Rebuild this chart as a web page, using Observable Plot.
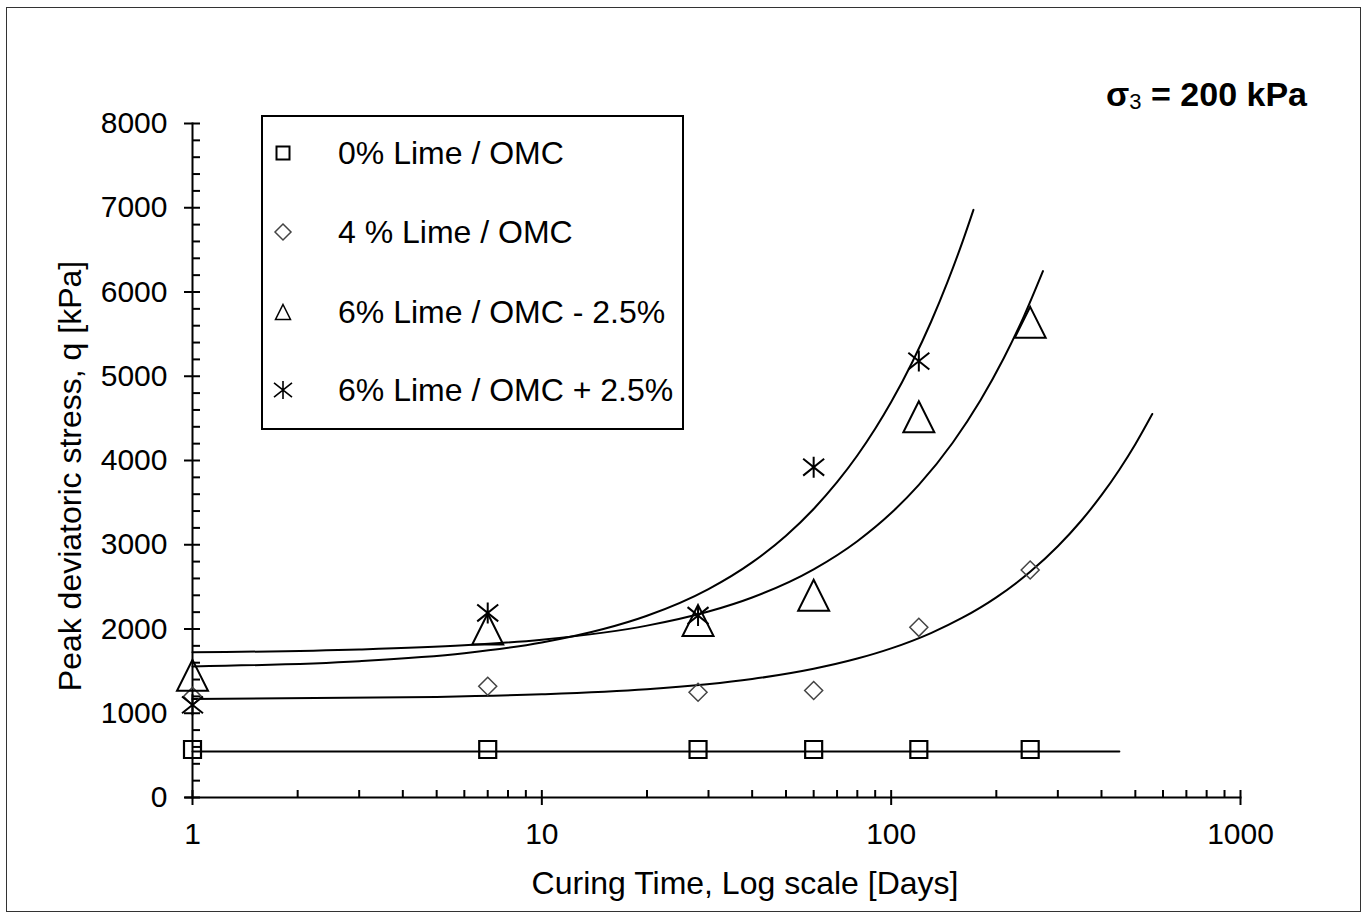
<!DOCTYPE html>
<html><head><meta charset="utf-8">
<script src="https://cdn.jsdelivr.net/npm/d3@7"></script>
<script src="https://cdn.jsdelivr.net/npm/@observablehq/plot@0.6"></script>
<style>
html,body{margin:0;padding:0;background:#fff;}
#wrap{position:relative;width:1367px;height:915px;overflow:hidden;font-family:"Liberation Sans",Arial,sans-serif;color:#000;background:#fff;}
#frame{position:absolute;left:6px;top:7px;width:1355px;height:905px;border:1.5px solid #333;box-sizing:border-box;pointer-events:none;}
#chart{position:absolute;left:0;top:0;}
#title{position:absolute;right:60px;top:77px;font-size:34px;font-weight:bold;line-height:1;white-space:nowrap;}
#title sub{font-size:22px;font-weight:normal;vertical-align:-3px;}
#ytitle{position:absolute;left:70px;top:476px;transform:translate(-50%,-50%) rotate(-90deg);font-size:32px;line-height:1;white-space:nowrap;}
#xtitle{position:absolute;left:745px;top:883px;transform:translate(-50%,-50%);font-size:32px;line-height:1;white-space:nowrap;}
#legend{position:absolute;left:261px;top:115px;width:423px;height:315px;border:2px solid #000;box-sizing:border-box;background:#fff;}
#legend svg{position:absolute;left:0;top:0;}
.lrow{position:absolute;left:75px;transform:translateY(-50%);font-size:32px;line-height:1;white-space:nowrap;}
</style></head>
<body><div id="wrap">
<div id="chart"></div>
<div id="legend"></div>
<div id="title">σ<sub>3</sub> = 200 kPa</div>
<div id="ytitle">Peak deviatoric stress, q [kPa]</div>
<div id="xtitle">Curing Time, Log scale [Days]</div>
<div id="frame"></div>
</div>
<script>
// ---- data ----
const days = [1, 7, 28, 60, 120, 250];
const lime0 = [570, 570, 570, 570, 570, 570];
const lime4 = [1200, 1320, 1250, 1270, 2020, 2700];
const lime6Minus = [1450, 2000, 2100, 2400, 4520, 5640];
const daysPlus = [1, 7, 28, 60, 120];
const lime6Plus = [1100, 2190, 2160, 3920, 5180];

// trend curves
const fit0Days = [1, 450];
const fit0 = [545, 545];
const fit4Days = [1, 5, 10, 20, 40, 60, 80, 100, 130, 160, 200, 250, 300, 350, 400, 450, 500, 559];
const fit4 = [1170, 1194, 1225, 1285, 1406, 1528, 1649, 1770, 1952, 2134, 2376, 2679, 2982, 3285, 3588, 3891, 4194, 4552];
const fit6MinusDays = [1, 3, 6, 10, 15, 20, 30, 40, 60, 80, 100, 120, 150, 180, 210, 240, 272];
const fit6Minus = [1723, 1756, 1806, 1873, 1957, 2040, 2207, 2374, 2708, 3042, 3376, 3710, 4211, 4712, 5213, 5714, 6248];
const fit6PlusDays = [1, 3, 6, 10, 15, 20, 30, 40, 50, 60, 70, 80, 90, 100, 115, 130, 145, 160, 172];
const fit6Plus = [1555, 1618, 1713, 1840, 1999, 2157, 2474, 2791, 3108, 3425, 3742, 4059, 4376, 4693, 5169, 5644, 6120, 6595, 6975];

const seriesNames = ["0% Lime / OMC", "4 % Lime / OMC", "6% Lime / OMC - 2.5%", "6% Lime / OMC + 2.5%"];
const yMajor = [0, 1000, 2000, 3000, 4000, 5000, 6000, 7000, 8000];
const yMinor = d3.range(0, 8001, 200);
const xMajor = [1, 10, 100, 1000];
const xAll = [1,2,3,4,5,6,7,8,9,10,20,30,40,50,60,70,80,90,100,200,300,400,500,600,700,800,900,1000];

// ---- symbols (half-size = r) ----
const hs = s => Math.sqrt(s / Math.PI);
const symSquare = {draw(c, s){const h = hs(s); c.moveTo(-h,-h); c.lineTo(h,-h); c.lineTo(h,h); c.lineTo(-h,h); c.closePath();}};
const symDiamond = {draw(c, s){const h = hs(s); c.moveTo(0,-h); c.lineTo(h,0); c.lineTo(0,h); c.lineTo(-h,0); c.closePath();}};
const symTriangle = {draw(c, s){const h = hs(s); c.moveTo(0,-h); c.lineTo(h,h); c.lineTo(-h,h); c.closePath();}};
const symStar = {draw(c, s){const h = hs(s), v = h*0.8; c.moveTo(-h,-v); c.lineTo(h,v); c.moveTo(h,-v); c.lineTo(-h,v); c.moveTo(0,-h); c.lineTo(0,h);}};

const pts = (xs, ys) => xs.map((x, i) => ({x, y: ys[i]}));

const plot = Plot.plot({
  width: 1367, height: 915,
  marginLeft: 192, marginRight: 127, marginTop: 123, marginBottom: 118,
  style: {fontFamily: "'Liberation Sans', Arial, sans-serif", fontSize: "30px", color: "#000", background: "transparent", overflow: "visible"},
  x: {type: "log", domain: [1, 1000]},
  y: {domain: [0, 8000]},
  marks: [
    Plot.frame({anchor: "left", stroke: "#000", strokeWidth: 2}),
    Plot.frame({anchor: "bottom", stroke: "#000", strokeWidth: 2, insetLeft: -7}),
    Plot.axisY({ticks: yMajor, tickSize: 8, tickPadding: 17, tickFormat: d => String(d), label: null, strokeWidth: 2, fontSize: 30}),
    Plot.axisY({ticks: yMinor, tickSize: 8, dx: 8, tickFormat: () => "", label: null, strokeWidth: 2}),
    Plot.axisX({ticks: xMajor, tickSize: 8, tickPadding: 17, tickFormat: d => String(d), label: null, strokeWidth: 2, fontSize: 30}),
    Plot.axisX({ticks: xAll, tickSize: 7, dy: -7, tickFormat: () => "", label: null, strokeWidth: 2}),
    Plot.line(pts(fit0Days, fit0), {x: "x", y: "y", stroke: "#000", strokeWidth: 2}),
    Plot.line(pts(fit4Days, fit4), {x: "x", y: "y", stroke: "#000", strokeWidth: 2, curve: "monotone-x"}),
    Plot.line(pts(fit6MinusDays, fit6Minus), {x: "x", y: "y", stroke: "#000", strokeWidth: 2, curve: "monotone-x"}),
    Plot.line(pts(fit6PlusDays, fit6Plus), {x: "x", y: "y", stroke: "#000", strokeWidth: 2, curve: "monotone-x"}),
    Plot.dot(pts(days, lime0), {x: "x", y: "y", symbol: symSquare, r: 8.5, stroke: "#000", strokeWidth: 2.2, fill: "none"}),
    Plot.dot(pts(days, lime4), {x: "x", y: "y", symbol: symDiamond, r: 9, stroke: "#444", strokeWidth: 1.5, fill: "none"}),
    Plot.dot(pts(days, lime6Minus), {x: "x", y: "y", symbol: symTriangle, r: 15.5, stroke: "#000", strokeWidth: 2, fill: "none"}),
    Plot.dot(pts(daysPlus, lime6Plus), {x: "x", y: "y", symbol: symStar, r: 10.5, stroke: "#000", strokeWidth: 2, fill: "none"})
  ]
});
document.getElementById("chart").appendChild(plot);

// ---- legend ----
const legend = d3.select("#legend");
const rowsY = [36, 115, 195, 273];
const legSyms = [
  {sym: symSquare, r: 6.5, stroke: "#000", w: 2},
  {sym: symDiamond, r: 8, stroke: "#444", w: 1.5},
  {sym: symTriangle, r: 7.5, stroke: "#000", w: 1.5},
  {sym: symStar, r: 9, stroke: "#000", w: 1.6}
];
const lsvg = legend.append("svg").attr("width", 420).attr("height", 312);
legSyms.forEach((d, i) => {
  lsvg.append("path")
    .attr("d", d3.symbol(d.sym, Math.PI * d.r * d.r)())
    .attr("transform", `translate(20,${rowsY[i]})`)
    .attr("fill", "none").attr("stroke", d.stroke).attr("stroke-width", d.w);
  legend.append("div").attr("class", "lrow").style("top", rowsY[i] + "px").text(seriesNames[i]);
});
</script>
</body></html>
